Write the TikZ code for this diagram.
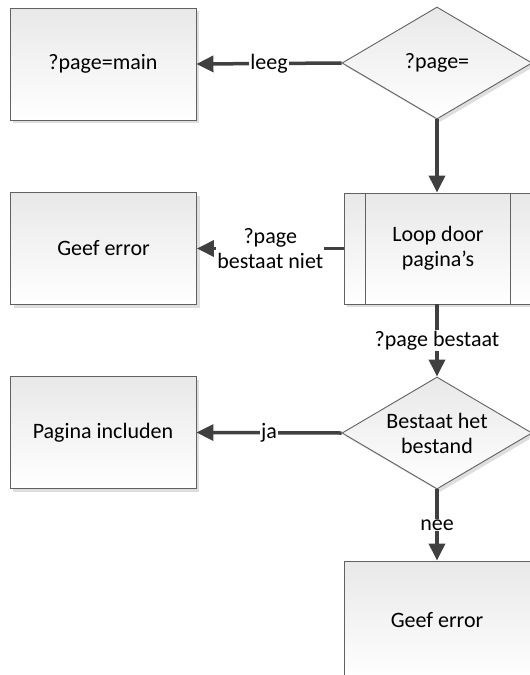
\documentclass[tikz,border=0pt]{standalone}
\usepackage{fontspec}
\setmainfont{Carlito}
\usetikzlibrary{shapes.geometric,arrows.meta,shadows}

\begin{document}
\begin{tikzpicture}[x=1pt,y=1pt,
  font=\fontsize{22}{25}\selectfont,
  blok/.style={draw=black!62,line width=0.9pt,top color=black!9,bottom color=white,
    minimum width=186pt,minimum height=112pt,inner sep=0pt,align=center,
    drop shadow={shadow xshift=3pt,shadow yshift=-3pt,fill=black!13,opacity=1}},
  keuze/.style={blok,shape=diamond,minimum width=190pt,minimum height=112pt,inner sep=-20pt},
  pijl/.style={draw=black!75,line width=3.5pt,-{Triangle[length=17pt,width=16pt]}},
  lbl/.style={fill=white,inner sep=1pt,align=center}]
\useasboundingbox (0,0) rectangle (530,-675);
\clip (0,0) rectangle (530,-675);
\node[blok] (main) at (103,-64) {?page=main};
\node[keuze] (page) at (437,-63) {?page=};
\node[blok] (fout1) at (103.5,-248.5) {Geef error};
\node[blok,minimum width=188pt,minimum height=111pt] (loop) at (438,-248.5) {Loop door\\pagina’s};
\draw[draw=black!62,line width=0.9pt] ([xshift=22pt]loop.north west) -- ([xshift=22pt]loop.south west);
\draw[draw=black!62,line width=0.9pt] ([xshift=-22pt]loop.north east) -- ([xshift=-22pt]loop.south east);
\node[blok] (incl) at (103,-432.5) {Pagina includen};
\node[keuze] (bestand) at (437,-433) {Bestaat het\\bestand};
\node[blok,minimum height=118pt] (fout2) at (437,-620) {Geef error};
\draw[pijl] (page.west) -- node[lbl] {leeg} (main.east);
\draw[pijl] (page.south) -- (page.south |- loop.north);
\draw[pijl] (loop.west) -- node[lbl] {?page\\bestaat niet} (fout1.east);
\draw[pijl] (loop.south -| bestand.north) -- node[lbl] {?page bestaat} (bestand.north);
\draw[pijl] (bestand.west) -- node[lbl] {ja} (incl.east);
\draw[pijl] (bestand.south) -- node[lbl] {nee} (fout2.north);
\end{tikzpicture}
\end{document}
